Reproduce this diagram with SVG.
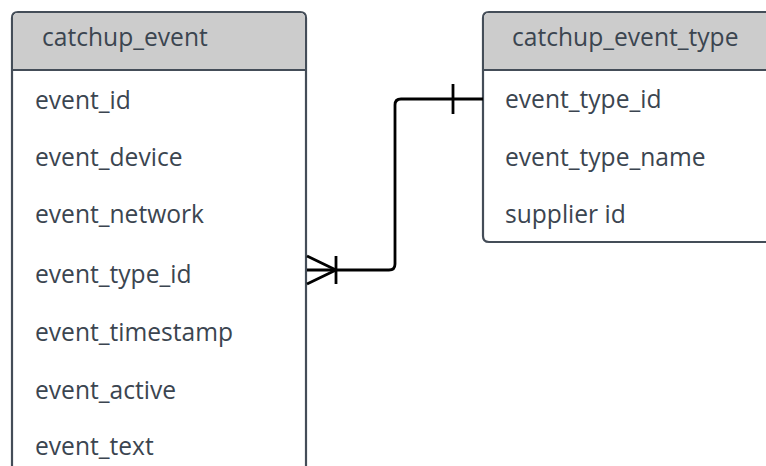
<svg xmlns="http://www.w3.org/2000/svg" width="766" height="466" viewBox="0 0 766 466">
  <style>
    .box { fill: #ffffff; stroke: #444d58; stroke-width: 2.2; }
    .head { fill: #cccccc; }
    .rule { stroke: #444d58; stroke-width: 2.2; }
    .t { font-family: "Open Sans", "Noto Sans", sans-serif; font-size: 24.6px; fill: #3b4550; }
    .link { fill: none; stroke: #000000; stroke-width: 2.8; stroke-linecap: butt; stroke-linejoin: round; }
  </style>
  <rect width="766" height="466" fill="#ffffff"/>

  <!-- table: catchup_event (runs past the bottom edge) -->
  <g id="catchup_event">
    <path class="box" d="M12,480 V18 Q12,12 18,12 H300 Q306,12 306,18 V480"/>
    <path class="head" d="M13,70 V18 Q13,13 18,13 H300 Q305,13 305,18 V70 Z"/>
    <line class="rule" x1="12" y1="70" x2="306" y2="70"/>
    <text class="t" x="42" y="46">catchup_event</text>
    <text class="t" x="35" y="109">event_id</text>
    <text class="t" x="35" y="166">event_device</text>
    <text class="t" x="35" y="223">event_network</text>
    <text class="t" x="35" y="283">event_type_id</text>
    <text class="t" x="35" y="341">event_timestamp</text>
    <text class="t" x="35" y="399">event_active</text>
    <text class="t" x="35" y="455">event_text</text>
  </g>

  <!-- table: catchup_event_type (runs past the right edge) -->
  <g id="catchup_event_type">
    <path class="box" d="M780,12 H489 Q483,12 483,18 V236 Q483,242 489,242 H780"/>
    <path class="head" d="M780,13 H489 Q484,13 484,18 V70 H780 Z"/>
    <line class="rule" x1="483" y1="70" x2="780" y2="70"/>
    <text class="t" x="512" y="46">catchup_event_type</text>
    <text class="t" x="505" y="108">event_type_id</text>
    <text class="t" x="505" y="166">event_type_name</text>
    <text class="t" x="505" y="223">supplier id</text>
  </g>

  <!-- relationship: many event rows to one event type -->
  <g id="connectors">
    <path class="link" d="M307,270 H389 Q395,270 395,264 V105 Q395,99 401,99 H483"/>
    <!-- crow's foot (many) at catchup_event -->
    <path class="link" d="M307,256 L336,270 L307,284"/>
    <line class="link" x1="336" y1="256" x2="336" y2="284"/>
    <!-- single bar (one) at catchup_event_type -->
    <line class="link" x1="453" y1="84" x2="453" y2="114"/>
  </g>
</svg>
